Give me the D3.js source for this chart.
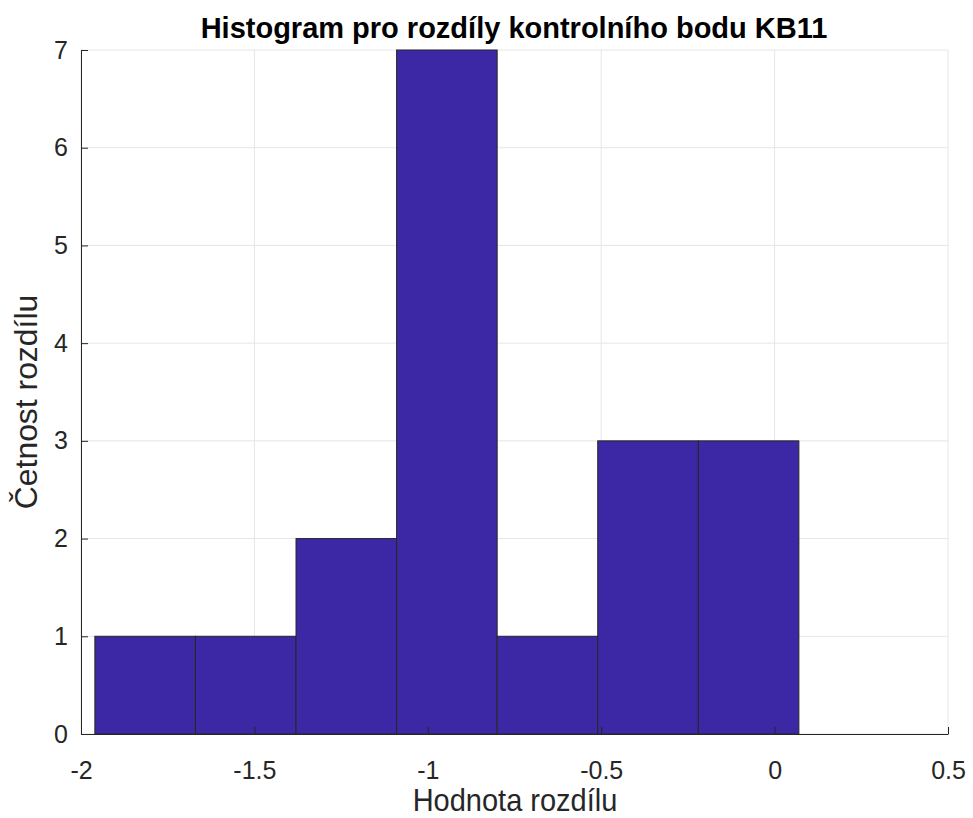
<!DOCTYPE html>
<html><head><meta charset="utf-8">
<script src="https://cdn.jsdelivr.net/npm/d3@7/dist/d3.min.js"></script>
<style>body{margin:0;background:#fff}svg{display:block}text{font-family:"Liberation Sans",Arial,sans-serif}</style>
</head><body>
<script>
const binEdges = [-1.96, -1.67, -1.38, -1.09, -0.80, -0.51, -0.22, 0.07];
const counts = [1, 1, 2, 7, 1, 3, 3];
const xTicks = [-2, -1.5, -1, -0.5, 0, 0.5];
const xTickLabels = ["-2", "-1.5", "-1", "-0.5", "0", "0.5"];
const yTicks = [0, 1, 2, 3, 4, 5, 6, 7];
const title = "Histogram pro rozdíly kontrolního bodu KB11";
const xLabel = "Hodnota rozdílu";
const yLabel = "Četnost rozdílu";

const W = 973, H = 818;
const m = {left: 81, right: 973 - 948, top: 50, bottom: 818 - 734};
const svg = d3.select("body").append("svg").attr("width", W).attr("height", H);
const x = d3.scaleLinear().domain([-2, 0.5]).range([m.left, W - m.right]);
const y = d3.scaleLinear().domain([0, 7]).range([H - m.bottom, m.top]);

const grid = svg.append("g").attr("stroke", "#e6e6e6").attr("stroke-width", 1);
xTicks.forEach(t => grid.append("line").attr("x1", x(t)).attr("x2", x(t)).attr("y1", y(0)).attr("y2", y(7)));
yTicks.forEach(t => grid.append("line").attr("x1", x(-2)).attr("x2", x(0.5)).attr("y1", y(t)).attr("y2", y(t)));

const bins = counts.map((c, i) => ({x0: binEdges[i], x1: binEdges[i + 1], c}));
svg.append("g").selectAll("rect").data(bins).join("rect")
  .attr("x", d => x(d.x0)).attr("width", d => x(d.x1) - x(d.x0))
  .attr("y", d => y(d.c)).attr("height", d => y(0) - y(d.c))
  .attr("fill", "#3c28a5").attr("stroke", "#262626").attr("stroke-width", 1);

const xAxis = svg.append("g").attr("transform", `translate(0,${y(0)})`)
  .call(d3.axisBottom(x).tickValues(xTicks).tickFormat((d, i) => xTickLabels[i]).tickSizeInner(-7).tickSizeOuter(0).tickPadding(27));
const yAxis = svg.append("g").attr("transform", `translate(${x(-2)},0)`)
  .call(d3.axisLeft(y).tickValues(yTicks).tickFormat(d3.format("d")).tickSizeInner(-7).tickSizeOuter(0).tickPadding(13));
[xAxis, yAxis].forEach(a => {
  a.select(".domain").attr("stroke", "#262626");
  a.selectAll(".tick line").attr("stroke", "#262626");
  a.selectAll(".tick text").attr("fill", "#262626").style("font-size", "25px").style("font-family", '"Liberation Sans",Arial,sans-serif');
});

svg.append("text").attr("x", 514).attr("y", 38).attr("text-anchor", "middle")
  .attr("font-weight", "bold").attr("font-size", 29).attr("fill", "#000").text(title);
svg.append("text").attr("transform", "translate(515,811) scale(1,1.06)").attr("text-anchor", "middle")
  .attr("font-size", 29).attr("fill", "#262626").text(xLabel);
svg.append("text").attr("transform", "translate(37,402) scale(1.06,1.1) rotate(-90)").attr("text-anchor", "middle")
  .attr("font-size", 29).attr("fill", "#262626").text(yLabel);
</script>
</body></html>
